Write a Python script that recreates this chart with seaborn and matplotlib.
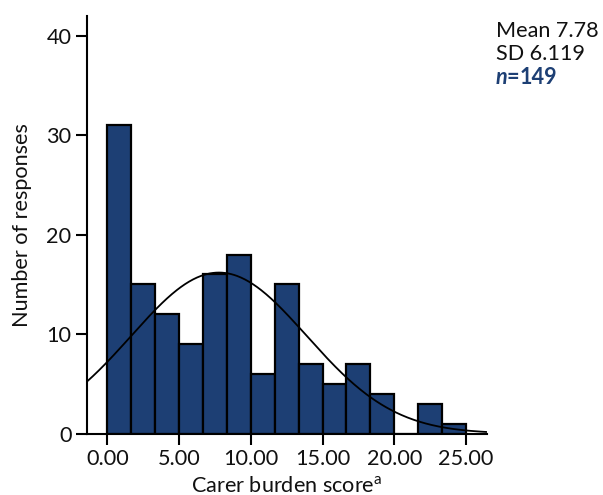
import numpy as np
import pandas as pd
import matplotlib
matplotlib.use("Agg")
import matplotlib.pyplot as plt
import seaborn as sns

# Histogram of carer burden scores (15 bins of equal width from 0 to 25)
score_range = (0.0, 25.0)
counts = [31, 15, 12, 9, 16, 18, 6, 15, 7, 5, 7, 4, 0, 3, 1]
mean_score = 7.78
sd_score = 6.119
n_total = 149

x_ticks = [0, 5, 10, 15, 20, 25]
x_ticklabels = ["0.00", "5.00", "10.00", "15.00", "20.00", "25.00"]
y_ticks = [0, 10, 20, 30, 40]

bar_color = "#1d3f74"
text_color = "#111111"
fs = 15.6

sns.set_style("ticks")
plt.rcParams["font.family"] = ["Lato", "DejaVu Sans"]

fig = plt.figure(figsize=(6.03, 4.95), dpi=100)
ax = fig.add_axes([0.1438, 0.1242, 0.8070 - 0.1438, 0.9677 - 0.1242])

n_bins = len(counts)
bin_edges = np.linspace(score_range[0], score_range[1], n_bins + 1)
centers = (bin_edges[:-1] + bin_edges[1:]) / 2
df = pd.DataFrame({"score": centers, "count": counts})
sns.histplot(data=df, x="score", weights="count", bins=n_bins, binrange=score_range,
             ax=ax, color=bar_color, alpha=1.0, edgecolor="black", linewidth=1.6)

# Fitted normal curve scaled to counts per bin
xlim = (-1.44, 26.44)
bw = bin_edges[1] - bin_edges[0]
xs = np.linspace(xlim[0], xlim[1], 400)
ys = n_total * bw / (sd_score * np.sqrt(2 * np.pi)) * np.exp(-0.5 * ((xs - mean_score) / sd_score) ** 2)
sns.lineplot(x=xs, y=ys, ax=ax, color="black", linewidth=1.3)

ax.set_xlim(*xlim)
ax.set_ylim(0, 42.0)
ax.set_xticks(x_ticks)
ax.set_xticklabels(x_ticklabels)
ax.set_yticks(y_ticks)
ax.tick_params(axis="both", labelsize=fs, length=8, width=1.5, color="black",
               labelcolor=text_color, direction="out", pad=3)
for side in ("top", "right"):
    ax.spines[side].set_visible(False)
for side in ("left", "bottom"):
    ax.spines[side].set_linewidth(1.5)
    ax.spines[side].set_color("black")

ax.set_xlabel(r"Carer burden score$^\mathregular{a}$", fontsize=fs, labelpad=5, color=text_color)
ax.set_ylabel("Number of responses", fontsize=fs, labelpad=10, color=text_color)

# Summary statistics
def fy(px):
    return 1 - px / 495

fig.text(496 / 603, fy(36.7), "Mean 7.78", fontsize=fs, va="baseline", ha="left", color=text_color)
fig.text(496 / 603, fy(60.2), "SD 6.119", fontsize=fs, va="baseline", ha="left", color=text_color)
fig.text(496 / 603, fy(84.0), "n", fontsize=fs, va="baseline", ha="left",
         color=bar_color, fontweight="bold", fontstyle="italic")
fig.text(506.5 / 603, fy(84.0), "=", fontsize=fs, va="baseline", ha="left",
         color=bar_color, fontweight="bold")
fig.text(520 / 603, fy(84.0), "149", fontsize=fs, va="baseline", ha="left",
         color=bar_color, fontweight="bold")

fig.savefig("out.png", dpi=100)
